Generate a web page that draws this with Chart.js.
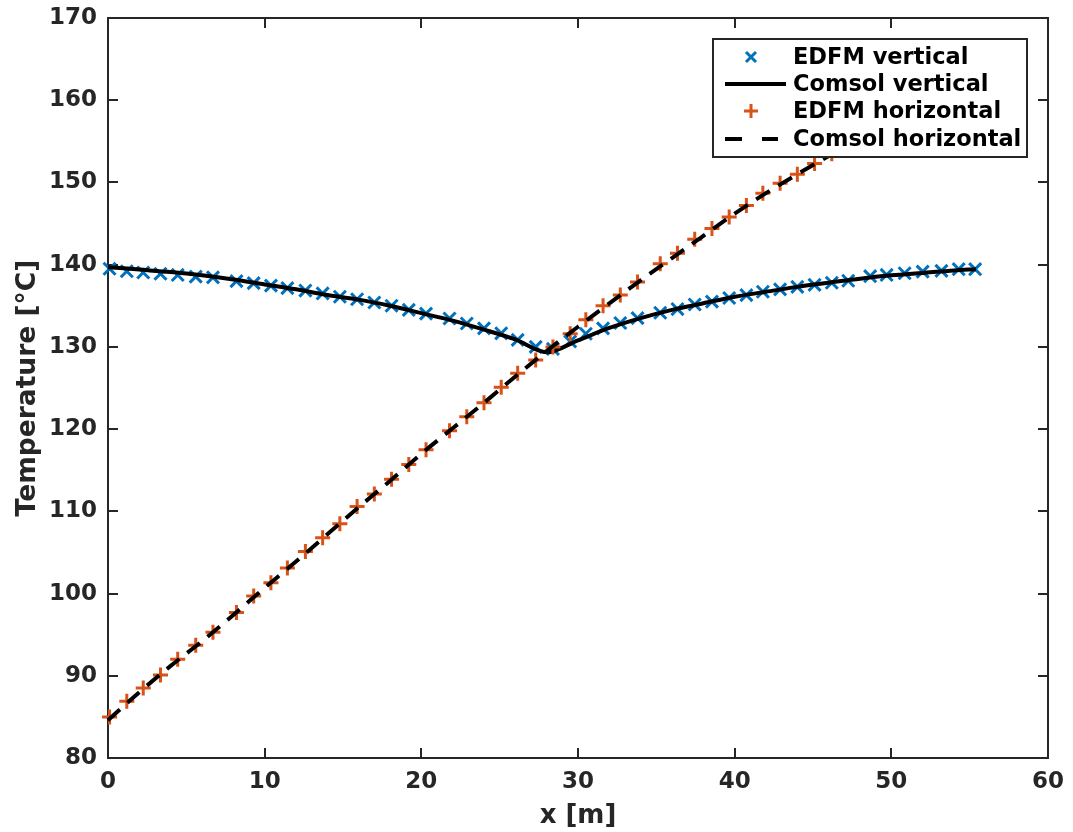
<!DOCTYPE html>
<html>
<head>
<meta charset="utf-8">
<script src="https://cdn.jsdelivr.net/npm/chart.js@4.4.1/dist/chart.umd.min.js"></script>
<style>
  html, body { margin: 0; padding: 0; background: #fff; }
  #wrap { width: 1073px; height: 832px; }
</style>
</head>
<body>
<div id="wrap"><canvas id="tempChart" width="1073" height="832"></canvas></div>
<script>
// EDFM cell centres along the fracture [m]
const edfmX = [0.1, 1.2, 2.25, 3.35, 4.45, 5.6, 6.7, 8.2, 9.3, 10.4, 11.45, 12.6, 13.7, 14.8, 15.9, 17.0, 18.1, 19.2, 20.3, 21.8,
    22.9, 24.0, 25.1, 26.15, 27.3, 28.4, 29.5, 30.5, 31.6, 32.7, 33.8, 35.25, 36.35, 37.45, 38.55, 39.65, 40.75, 41.8, 42.9, 44.0,
    45.1, 46.2, 47.25, 48.65, 49.7, 50.85, 52.0, 53.2, 54.3, 55.35];
const edfmVertical = [139.5, 139.2, 139.05, 138.9, 138.75, 138.55, 138.45, 138.0, 137.75, 137.45, 137.15, 136.85, 136.5, 136.1, 135.8,
    135.4, 135.0, 134.5, 134.05, 133.45, 132.85, 132.25, 131.65, 130.85, 130.0, 129.75, 130.65, 131.6, 132.25, 132.9, 133.5, 134.15,
    134.6, 135.15, 135.5, 135.95, 136.3, 136.7, 137.0, 137.3, 137.55, 137.8, 138.05, 138.6, 138.75, 138.95, 139.15, 139.25, 139.45, 139.45];
const edfmHorizontal = [85.0, 86.9, 88.5, 90.1, 92.0, 93.7, 95.3, 97.7, 99.7, 101.3, 103.1, 105.1, 106.8, 108.5, 110.6, 112.1, 113.9,
    115.7, 117.5, 119.8, 121.5, 123.2, 125.1, 126.8, 128.4, 130.0, 131.6, 133.3, 135.0, 136.3, 137.9, 140.1, 141.4, 143.1, 144.4, 145.8,
    147.2, 148.7, 149.9, 151.0, 152.3, 153.5, 154.7, 156.3, 157.4, 158.6, 159.7, 160.8, 161.8, 162.7];

// Comsol reference solution
const comsolX = [0, 2, 4, 6, 8, 10, 12, 14, 16, 18, 20, 22, 24, 26, 28, 30, 32, 34, 36, 38, 40, 42, 44, 46, 48, 50, 52, 54, 55.4];
const comsolVertical = [139.7, 139.4, 139.1, 138.7, 138.2, 137.6, 137.0, 136.3, 135.75, 135.0, 134.1, 133.2, 132.1, 130.9, 129.35,
    130.8, 132.3, 133.5, 134.5, 135.3, 136.1, 136.7, 137.3, 137.8, 138.3, 138.7, 139.0, 139.3, 139.45];
const comsolHorizontal = [84.6, 88.0, 91.2, 94.2, 97.4, 100.7, 103.9, 107.2, 110.5, 113.7, 117.0, 120.1, 123.2, 126.4, 129.5, 132.45,
    135.3, 138.1, 140.8, 143.5, 146.2, 148.7, 151.0, 153.2, 155.3, 157.3, 159.2, 161.0, 162.2];

const xTicks = [0, 10, 20, 30, 40, 50, 60];
const yTicks = [80, 90, 100, 110, 120, 130, 140, 150, 160, 170];

const blue = '#0072BD';
const orange = '#D95319';
const axisColor = '#262626';
const fontFamily = '"DejaVu Sans", sans-serif';

function toPoints(xs, ys) {
    return xs.map((x, i) => ({ x: x, y: ys[i] }));
}

// box around the axes with inward ticks on all four sides
const framePlugin = {
    id: 'frame',
    beforeDatasetsDraw(chart) {
        const { ctx, chartArea: a, scales } = chart;
        const tl = 10;
        ctx.save();
        ctx.strokeStyle = axisColor;
        ctx.lineWidth = 2;
        ctx.beginPath();
        scales.x.ticks.forEach(t => {
            const px = Math.round(scales.x.getPixelForValue(t.value));
            ctx.moveTo(px, a.bottom); ctx.lineTo(px, a.bottom - tl);
            ctx.moveTo(px, a.top); ctx.lineTo(px, a.top + tl);
        });
        scales.y.ticks.forEach(t => {
            const py = Math.round(scales.y.getPixelForValue(t.value));
            ctx.moveTo(a.left, py); ctx.lineTo(a.left + tl, py);
            ctx.moveTo(a.right, py); ctx.lineTo(a.right - tl, py);
        });
        ctx.stroke();
        ctx.strokeRect(a.left, a.top, a.right - a.left, a.bottom - a.top);
        ctx.restore();
    }
};

// MATLAB-like legend box in the upper right corner
const legendPlugin = {
    id: 'boxLegend',
    afterDatasetsDraw(chart) {
        const ctx = chart.ctx;
        const bx = 713, by = 39, bw = 314, bh = 118;
        ctx.save();
        ctx.fillStyle = '#fff';
        ctx.fillRect(bx, by, bw, bh);
        ctx.strokeStyle = axisColor;
        ctx.lineWidth = 2;
        ctx.strokeRect(bx, by, bw, bh);

        const rows = [57, 84, 111, 139];
        const sx = 751;
        // EDFM vertical: x marker
        ctx.strokeStyle = blue; ctx.lineWidth = 3;
        ctx.beginPath();
        ctx.moveTo(sx - 5, rows[0] - 5); ctx.lineTo(sx + 5, rows[0] + 5);
        ctx.moveTo(sx - 5, rows[0] + 5); ctx.lineTo(sx + 5, rows[0] - 5);
        ctx.stroke();
        // Comsol vertical: solid line
        ctx.strokeStyle = '#000'; ctx.lineWidth = 4;
        ctx.beginPath();
        ctx.moveTo(725, rows[1]); ctx.lineTo(786, rows[1]);
        ctx.stroke();
        // EDFM horizontal: + marker
        ctx.strokeStyle = orange; ctx.lineWidth = 3;
        ctx.beginPath();
        ctx.moveTo(sx - 7, rows[2]); ctx.lineTo(sx + 7, rows[2]);
        ctx.moveTo(sx, rows[2] - 7); ctx.lineTo(sx, rows[2] + 7);
        ctx.stroke();
        // Comsol horizontal: dashed line
        ctx.strokeStyle = '#000'; ctx.lineWidth = 4;
        ctx.beginPath();
        ctx.moveTo(725, rows[3]); ctx.lineTo(742, rows[3]);
        ctx.moveTo(762, rows[3]); ctx.lineTo(778, rows[3]);
        ctx.stroke();

        ctx.fillStyle = '#000';
        ctx.font = 'bold 22.5px ' + fontFamily;
        ctx.textBaseline = 'middle';
        ctx.textAlign = 'left';
        const labels = chart.data.datasets.map(d => d.label);
        labels.forEach((lab, i) => ctx.fillText(lab, 793, rows[i] + 1));
        ctx.restore();
    }
};

const ctx = document.getElementById('tempChart').getContext('2d');
new Chart(ctx, {
    type: 'scatter',
    data: {
        datasets: [
            {
                label: 'EDFM vertical',
                data: toPoints(edfmX, edfmVertical),
                pointStyle: 'crossRot',
                pointRadius: 8.5,
                pointBorderWidth: 3,
                borderColor: blue,
                backgroundColor: blue,
                showLine: false,
                clip: false,
                order: 4
            },
            {
                label: 'Comsol vertical',
                data: toPoints(comsolX, comsolVertical),
                showLine: true,
                pointRadius: 0,
                borderColor: '#000',
                borderWidth: 4,
                cubicInterpolationMode: 'monotone',
                clip: false,
                order: 3
            },
            {
                label: 'EDFM horizontal',
                data: toPoints(edfmX, edfmHorizontal),
                pointStyle: 'cross',
                pointRadius: 7.5,
                pointBorderWidth: 3,
                borderColor: orange,
                backgroundColor: orange,
                showLine: false,
                clip: false,
                order: 2
            },
            {
                label: 'Comsol horizontal',
                data: toPoints(comsolX, comsolHorizontal),
                showLine: true,
                pointRadius: 0,
                borderColor: '#000',
                borderWidth: 4,
                borderDash: [16, 10],
                cubicInterpolationMode: 'monotone',
                clip: false,
                order: 1
            }
        ]
    },
    options: {
        responsive: false,
        animation: false,
        devicePixelRatio: 1,
        layout: { padding: { left: 0, top: 18, right: 25, bottom: 0 } },
        plugins: {
            legend: { display: false },
            tooltip: { enabled: false }
        },
        scales: {
            x: {
                type: 'linear',
                min: 0,
                max: 60,
                afterBuildTicks: s => { s.ticks = xTicks.map(v => ({ value: v })); },
                afterFit: s => { s.height = 74; s.paddingLeft = 0; s.paddingRight = 0; },
                grid: { display: false, drawTicks: false },
                border: { display: false },
                ticks: {
                    color: axisColor,
                    padding: 10,
                    maxRotation: 0,
                    font: { family: fontFamily, size: 23, weight: 'bold' }
                },
                title: {
                    display: true,
                    text: 'x [m]',
                    color: axisColor,
                    padding: { top: 0, bottom: 0 },
                    font: { family: fontFamily, size: 26, weight: 'bold', lineHeight: 1.2 }
                }
            },
            y: {
                type: 'linear',
                min: 80,
                max: 170,
                afterBuildTicks: s => { s.ticks = yTicks.map(v => ({ value: v })); },
                afterFit: s => { s.width = 108; s.paddingTop = 0; s.paddingBottom = 0; },
                grid: { display: false, drawTicks: false },
                border: { display: false },
                ticks: {
                    color: axisColor,
                    padding: 11,
                    font: { family: fontFamily, size: 23, weight: 'bold' }
                },
                title: {
                    display: true,
                    text: 'Temperature [°C]',
                    color: axisColor,
                    padding: { top: 12, bottom: 0 },
                    font: { family: fontFamily, size: 26.5, weight: 'bold', lineHeight: 1.2 }
                }
            }
        }
    },
    plugins: [framePlugin, legendPlugin]
});
</script>
</body>
</html>
